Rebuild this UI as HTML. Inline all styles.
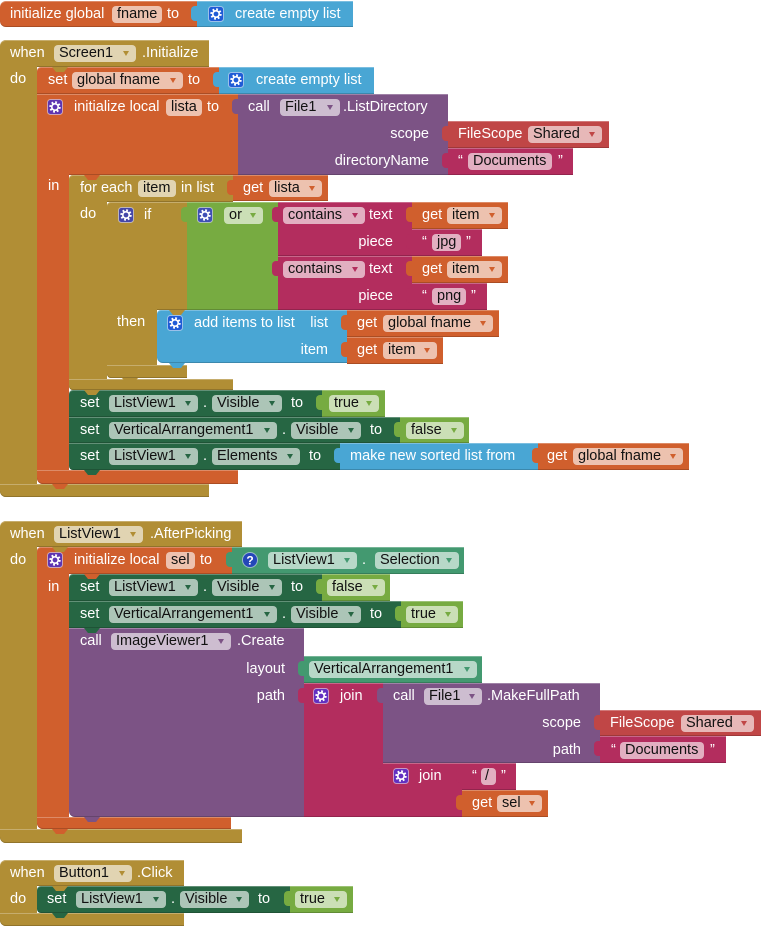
<!DOCTYPE html>
<html><head><meta charset="utf-8"><style>
html,body{margin:0;padding:0;background:#fff;width:761px;height:927px;overflow:hidden;font-family:"Liberation Sans",Arial,sans-serif}
.b{position:absolute;box-sizing:border-box;box-shadow:inset 0 1px 0 rgba(255,255,255,.28),inset 0 -1px 0 rgba(0,0,0,.18)}
.tb{position:absolute;width:7px;height:15px;border-radius:4px 0 0 4px}
.nb{position:absolute;width:16px;height:5px;clip-path:polygon(0 0,100% 0,75% 100%,25% 100%)}
.t{position:absolute;color:#fff;font-size:14.5px;line-height:18px;height:18px;white-space:nowrap}
.p{position:absolute;height:17px;border-radius:4px;background:rgba(255,255,255,.62);color:#111;font-size:14.5px;line-height:17px;padding-left:5px;box-sizing:border-box;white-space:nowrap}
.p i{position:absolute;right:7px;top:6px;width:0;height:0;border-left:3.5px solid transparent;border-right:3.5px solid transparent;border-top:5px solid #888}
.o i{border-top-color:#D05F2D}.g i{border-top-color:#B18E35}.u i{border-top-color:#7C5385}
.d i{border-top-color:#266643}.l i{border-top-color:#77AB41}.m i{border-top-color:#B32D5E}
.r i{border-top-color:#C04646}.e i{border-top-color:#439970}
.ic{position:absolute}
.OR{background:#D05F2D}.BL{background:#49A6D4}.GD{background:#B18E35}.PU{background:#7C5385}
.DG{background:#266643}.TL{background:#439970}.LG{background:#77AB41}.MG{background:#B32D5E}.RD{background:#C04646}
</style></head><body>

<!-- ===== Block 1 ===== -->
<div class="b OR" style="left:0;top:1px;width:197px;height:26px;border-radius:6px 0 0 6px"></div>
<div class="b BL" style="left:197px;top:1px;width:156px;height:26px"></div>
<div class="tb BL" style="left:191px;top:6px"></div>
<div class="t" style="left:10px;top:5px">initialize global</div>
<div class="p" style="left:112px;top:6px;width:50px">fname</div>
<div class="t" style="left:167px;top:5px">to</div>
<svg class="ic" style="left:208px;top:6px" width="16" height="16" viewBox="0 0 16 16"><rect x=".5" y=".5" width="15" height="15" rx="3" fill="#1F5BD6" stroke="#fff" stroke-opacity=".5"/><circle cx="8" cy="8" r="4.6" fill="none" stroke="#fff" stroke-width="2.2" stroke-dasharray="1.8 1.81"/><circle cx="8" cy="8" r="3.2" fill="none" stroke="#fff" stroke-width="1.6"/></svg>
<div class="t" style="left:235px;top:5px">create empty list</div>

<!-- ===== Block 2: Screen1.Initialize ===== -->
<div class="b GD" style="left:0;top:40px;width:209px;height:27px;border-radius:6px 0 0 0"></div>
<div class="b GD" style="left:0;top:40px;width:37px;height:457px;border-radius:6px 0 0 6px"></div>
<div class="b GD" style="left:0;top:484px;width:209px;height:13px;border-radius:0 0 0 6px"></div>
<div class="t" style="left:10px;top:44px">when</div>
<div class="p g" style="left:54px;top:45px;width:82px">Screen1<i></i></div>
<div class="t" style="left:142px;top:44px">.Initialize</div>
<div class="t" style="left:10px;top:70px">do</div>

<div class="b OR" style="left:37px;top:67px;width:182px;height:27px;border-radius:4px 0 0 0"></div>
<div class="nb GD" style="left:52px;top:67px"></div>
<div class="b BL" style="left:219px;top:67px;width:155px;height:27px"></div>
<div class="tb BL" style="left:213px;top:72px"></div>
<div class="t" style="left:48px;top:71px">set</div>
<div class="p o" style="left:72px;top:72px;width:111px">global fname<i></i></div>
<div class="t" style="left:188px;top:71px">to</div>
<svg class="ic" style="left:228px;top:72px" width="16" height="16" viewBox="0 0 16 16"><rect x=".5" y=".5" width="15" height="15" rx="3" fill="#1F5BD6" stroke="#fff" stroke-opacity=".5"/><circle cx="8" cy="8" r="4.6" fill="none" stroke="#fff" stroke-width="2.2" stroke-dasharray="1.8 1.81"/><circle cx="8" cy="8" r="3.2" fill="none" stroke="#fff" stroke-width="1.6"/></svg>
<div class="t" style="left:256px;top:71px">create empty list</div>

<!-- local lista -->
<div class="b OR" style="left:37px;top:94px;width:201px;height:81px"></div>
<div class="b OR" style="left:37px;top:94px;width:32px;height:390px;border-radius:0 0 0 6px"></div>
<div class="b OR" style="left:37px;top:470px;width:201px;height:14px;border-radius:0 0 0 6px"></div>
<div class="nb OR" style="left:52px;top:484px"></div>
<svg class="ic" style="left:47px;top:99px" width="16" height="16" viewBox="0 0 16 16"><rect x=".5" y=".5" width="15" height="15" rx="3" fill="#5E35B1" stroke="#fff" stroke-opacity=".5"/><circle cx="8" cy="8" r="4.6" fill="none" stroke="#fff" stroke-width="2.2" stroke-dasharray="1.8 1.81"/><circle cx="8" cy="8" r="3.2" fill="none" stroke="#fff" stroke-width="1.6"/></svg>
<div class="t" style="left:74px;top:98px">initialize local</div>
<div class="p" style="left:166px;top:99px;width:36px">lista</div>
<div class="t" style="left:207px;top:98px">to</div>

<div class="b PU" style="left:238px;top:94px;width:210px;height:81px"></div>
<div class="tb PU" style="left:232px;top:99px"></div>
<div class="t" style="left:248px;top:98px">call</div>
<div class="p u" style="left:280px;top:99px;width:60px">File1<i></i></div>
<div class="t" style="left:343px;top:98px">.ListDirectory</div>
<div class="t" style="left:0;width:429px;text-align:right;top:125px">scope</div>
<div class="b RD" style="left:448px;top:121px;width:161px;height:27px"></div>
<div class="tb RD" style="left:442px;top:126px"></div>
<div class="t" style="left:458px;top:125px">FileScope</div>
<div class="p r" style="left:528px;top:126px;width:74px">Shared<i></i></div>
<div class="t" style="left:0;width:429px;text-align:right;top:152px">directoryName</div>
<div class="b MG" style="left:448px;top:148px;width:125px;height:27px"></div>
<div class="tb MG" style="left:442px;top:153px"></div>
<div class="t" style="left:458px;top:152px">“</div>
<div class="p" style="left:468px;top:153px;width:84px">Documents</div>
<div class="t" style="left:558px;top:152px">”</div>
<div class="t" style="left:48px;top:177px">in</div>

<!-- for each -->
<div class="b GD" style="left:69px;top:175px;width:164px;height:27px;border-radius:4px 0 0 0"></div>
<div class="b GD" style="left:69px;top:175px;width:38px;height:215px;border-radius:4px 0 0 4px"></div>
<div class="b GD" style="left:69px;top:379px;width:164px;height:11px;border-radius:0 0 0 4px"></div>
<div class="nb OR" style="left:84px;top:175px"></div>
<div class="nb GD" style="left:84px;top:390px"></div>
<div class="t" style="left:80px;top:179px">for each</div>
<div class="p" style="left:138px;top:180px;width:38px">item</div>
<div class="t" style="left:181px;top:179px">in list</div>
<div class="b OR" style="left:233px;top:175px;width:95px;height:26px"></div>
<div class="tb OR" style="left:227px;top:180px"></div>
<div class="t" style="left:243px;top:179px">get</div>
<div class="p o" style="left:269px;top:180px;width:53px">lista<i></i></div>
<div class="t" style="left:80px;top:205px">do</div>

<!-- if -->
<div class="b GD" style="left:107px;top:202px;width:80px;height:108px;border-radius:4px 0 0 0"></div>
<div class="b GD" style="left:107px;top:202px;width:50px;height:176px;border-radius:4px 0 0 4px"></div>
<div class="b GD" style="left:107px;top:365px;width:80px;height:13px;border-radius:0 0 0 4px"></div>
<div class="nb GD" style="left:122px;top:378px"></div>
<svg class="ic" style="left:118px;top:207px" width="16" height="16" viewBox="0 0 16 16"><rect x=".5" y=".5" width="15" height="15" rx="3" fill="#4547A9" stroke="#fff" stroke-opacity=".5"/><circle cx="8" cy="8" r="4.6" fill="none" stroke="#fff" stroke-width="2.2" stroke-dasharray="1.8 1.81"/><circle cx="8" cy="8" r="3.2" fill="none" stroke="#fff" stroke-width="1.6"/></svg>
<div class="t" style="left:144px;top:206px">if</div>

<div class="b LG" style="left:187px;top:202px;width:91px;height:108px"></div>
<div class="tb LG" style="left:181px;top:207px"></div>
<svg class="ic" style="left:197px;top:207px" width="16" height="16" viewBox="0 0 16 16"><rect x=".5" y=".5" width="15" height="15" rx="3" fill="#3F4FB5" stroke="#fff" stroke-opacity=".5"/><circle cx="8" cy="8" r="4.6" fill="none" stroke="#fff" stroke-width="2.2" stroke-dasharray="1.8 1.81"/><circle cx="8" cy="8" r="3.2" fill="none" stroke="#fff" stroke-width="1.6"/></svg>
<div class="p l" style="left:224px;top:207px;width:39px">or<i></i></div>

<div class="b MG" style="left:278px;top:202px;width:134px;height:54px"></div>
<div class="tb MG" style="left:272px;top:207px"></div>
<div class="p m" style="left:283px;top:207px;width:82px">contains<i></i></div>
<div class="t" style="left:369px;top:206px">text</div>
<div class="b OR" style="left:412px;top:202px;width:96px;height:27px"></div>
<div class="tb OR" style="left:406px;top:207px"></div>
<div class="t" style="left:422px;top:206px">get</div>
<div class="p o" style="left:447px;top:207px;width:55px">item<i></i></div>
<div class="t" style="left:0;width:393px;text-align:right;top:233px">piece</div>
<div class="b MG" style="left:412px;top:229px;width:70px;height:27px"></div>
<div class="tb MG" style="left:406px;top:234px"></div>
<div class="t" style="left:422px;top:233px">“</div>
<div class="p" style="left:432px;top:234px;width:29px">jpg</div>
<div class="t" style="left:466px;top:233px">”</div>

<div class="b MG" style="left:278px;top:256px;width:134px;height:54px"></div>
<div class="tb MG" style="left:272px;top:261px"></div>
<div class="p m" style="left:283px;top:261px;width:82px">contains<i></i></div>
<div class="t" style="left:369px;top:260px">text</div>
<div class="b OR" style="left:412px;top:256px;width:96px;height:27px"></div>
<div class="tb OR" style="left:406px;top:261px"></div>
<div class="t" style="left:422px;top:260px">get</div>
<div class="p o" style="left:447px;top:261px;width:55px">item<i></i></div>
<div class="t" style="left:0;width:393px;text-align:right;top:287px">piece</div>
<div class="b MG" style="left:412px;top:283px;width:75px;height:27px"></div>
<div class="tb MG" style="left:406px;top:288px"></div>
<div class="t" style="left:422px;top:287px">“</div>
<div class="p" style="left:432px;top:288px;width:34px">png</div>
<div class="t" style="left:471px;top:287px">”</div>

<div class="t" style="left:117px;top:313px">then</div>
<div class="b BL" style="left:157px;top:310px;width:190px;height:53px;border-radius:4px 0 0 6px"></div>
<div class="nb GD" style="left:169px;top:310px"></div>
<div class="nb BL" style="left:169px;top:363px"></div>
<svg class="ic" style="left:167px;top:315px" width="16" height="16" viewBox="0 0 16 16"><rect x=".5" y=".5" width="15" height="15" rx="3" fill="#1F5BD6" stroke="#fff" stroke-opacity=".5"/><circle cx="8" cy="8" r="4.6" fill="none" stroke="#fff" stroke-width="2.2" stroke-dasharray="1.8 1.81"/><circle cx="8" cy="8" r="3.2" fill="none" stroke="#fff" stroke-width="1.6"/></svg>
<div class="t" style="left:194px;top:314px">add items to list</div>
<div class="t" style="left:0;width:328px;text-align:right;top:314px">list</div>
<div class="t" style="left:0;width:328px;text-align:right;top:341px">item</div>
<div class="b OR" style="left:347px;top:310px;width:152px;height:27px"></div>
<div class="tb OR" style="left:341px;top:315px"></div>
<div class="t" style="left:357px;top:314px">get</div>
<div class="p o" style="left:383px;top:315px;width:110px">global fname<i></i></div>
<div class="b OR" style="left:347px;top:337px;width:96px;height:27px"></div>
<div class="tb OR" style="left:341px;top:342px"></div>
<div class="t" style="left:357px;top:341px">get</div>
<div class="p o" style="left:383px;top:342px;width:54px">item<i></i></div>

<!-- setters -->
<div class="b DG" style="left:69px;top:390px;width:253px;height:27px;border-radius:4px 0 0 0"></div>
<div class="nb GD" style="left:84px;top:390px"></div>
<div class="t" style="left:80px;top:394px">set</div>
<div class="p d" style="left:109px;top:395px;width:89px">ListView1<i></i></div>
<div class="t" style="left:203px;top:394px">.</div>
<div class="p d" style="left:212px;top:395px;width:70px">Visible<i></i></div>
<div class="t" style="left:291px;top:394px">to</div>
<div class="b LG" style="left:322px;top:390px;width:63px;height:27px"></div>
<div class="tb LG" style="left:316px;top:395px"></div>
<div class="p l" style="left:329px;top:395px;width:50px">true<i></i></div>

<div class="b DG" style="left:69px;top:417px;width:331px;height:26px"></div>
<div class="t" style="left:80px;top:421px">set</div>
<div class="p d" style="left:109px;top:422px;width:168px">VerticalArrangement1<i></i></div>
<div class="t" style="left:282px;top:421px">.</div>
<div class="p d" style="left:291px;top:422px;width:70px">Visible<i></i></div>
<div class="t" style="left:370px;top:421px">to</div>
<div class="b LG" style="left:400px;top:417px;width:69px;height:26px"></div>
<div class="tb LG" style="left:394px;top:422px"></div>
<div class="p l" style="left:406px;top:422px;width:58px">false<i></i></div>

<div class="b DG" style="left:69px;top:443px;width:271px;height:27px;border-radius:0 0 0 4px"></div>
<div class="nb DG" style="left:84px;top:470px"></div>
<div class="t" style="left:80px;top:447px">set</div>
<div class="p d" style="left:109px;top:448px;width:89px">ListView1<i></i></div>
<div class="t" style="left:203px;top:447px">.</div>
<div class="p d" style="left:212px;top:448px;width:88px">Elements<i></i></div>
<div class="t" style="left:309px;top:447px">to</div>
<div class="b BL" style="left:340px;top:443px;width:198px;height:27px"></div>
<div class="tb BL" style="left:334px;top:448px"></div>
<div class="t" style="left:350px;top:447px">make new sorted list from</div>
<div class="b OR" style="left:538px;top:443px;width:151px;height:27px"></div>
<div class="tb OR" style="left:532px;top:448px"></div>
<div class="t" style="left:547px;top:447px">get</div>
<div class="p o" style="left:573px;top:448px;width:110px">global fname<i></i></div>

<!-- ===== Block 3: AfterPicking ===== -->
<div class="b GD" style="left:0;top:521px;width:242px;height:26px;border-radius:6px 0 0 0"></div>
<div class="b GD" style="left:0;top:521px;width:37px;height:322px;border-radius:6px 0 0 6px"></div>
<div class="b GD" style="left:0;top:829px;width:242px;height:14px;border-radius:0 0 0 6px"></div>
<div class="t" style="left:10px;top:525px">when</div>
<div class="p g" style="left:54px;top:526px;width:89px">ListView1<i></i></div>
<div class="t" style="left:150px;top:525px">.AfterPicking</div>
<div class="t" style="left:10px;top:551px">do</div>

<div class="b OR" style="left:37px;top:547px;width:195px;height:27px;border-radius:4px 0 0 0"></div>
<div class="b OR" style="left:37px;top:547px;width:32px;height:282px;border-radius:4px 0 0 6px"></div>
<div class="b OR" style="left:37px;top:817px;width:194px;height:12px;border-radius:0 0 0 6px"></div>
<div class="nb GD" style="left:52px;top:547px"></div>
<div class="nb OR" style="left:52px;top:829px"></div>
<svg class="ic" style="left:47px;top:552px" width="16" height="16" viewBox="0 0 16 16"><rect x=".5" y=".5" width="15" height="15" rx="3" fill="#5E35B1" stroke="#fff" stroke-opacity=".5"/><circle cx="8" cy="8" r="4.6" fill="none" stroke="#fff" stroke-width="2.2" stroke-dasharray="1.8 1.81"/><circle cx="8" cy="8" r="3.2" fill="none" stroke="#fff" stroke-width="1.6"/></svg>
<div class="t" style="left:74px;top:551px">initialize local</div>
<div class="p" style="left:166px;top:552px;width:29px">sel</div>
<div class="t" style="left:200px;top:551px">to</div>
<div class="b TL" style="left:232px;top:547px;width:232px;height:27px"></div>
<div class="tb TL" style="left:226px;top:552px"></div>
<svg class="ic" style="left:242px;top:552px" width="16" height="16" viewBox="0 0 16 16"><circle cx="8" cy="8" r="7.5" fill="#2447B8" stroke="#fff" stroke-opacity=".5"/><text x="8" y="12.3" text-anchor="middle" font-family="Liberation Sans,sans-serif" font-weight="bold" font-size="12" fill="#fff">?</text></svg>
<div class="p e" style="left:268px;top:552px;width:89px">ListView1<i></i></div>
<div class="t" style="left:362px;top:551px">.</div>
<div class="p e" style="left:375px;top:552px;width:84px">Selection<i></i></div>
<div class="t" style="left:48px;top:578px">in</div>

<div class="b DG" style="left:69px;top:574px;width:253px;height:27px;border-radius:4px 0 0 0"></div>
<div class="nb OR" style="left:84px;top:574px"></div>
<div class="t" style="left:80px;top:578px">set</div>
<div class="p d" style="left:109px;top:579px;width:89px">ListView1<i></i></div>
<div class="t" style="left:203px;top:578px">.</div>
<div class="p d" style="left:212px;top:579px;width:70px">Visible<i></i></div>
<div class="t" style="left:291px;top:578px">to</div>
<div class="b LG" style="left:322px;top:574px;width:68px;height:27px"></div>
<div class="tb LG" style="left:316px;top:579px"></div>
<div class="p l" style="left:327px;top:579px;width:58px">false<i></i></div>

<div class="b DG" style="left:69px;top:601px;width:332px;height:27px"></div>
<div class="t" style="left:80px;top:605px">set</div>
<div class="p d" style="left:109px;top:606px;width:168px">VerticalArrangement1<i></i></div>
<div class="t" style="left:282px;top:605px">.</div>
<div class="p d" style="left:291px;top:606px;width:70px">Visible<i></i></div>
<div class="t" style="left:370px;top:605px">to</div>
<div class="b LG" style="left:401px;top:601px;width:62px;height:27px"></div>
<div class="tb LG" style="left:395px;top:606px"></div>
<div class="p l" style="left:406px;top:606px;width:52px">true<i></i></div>

<div class="b PU" style="left:69px;top:628px;width:235px;height:189px;border-radius:0 0 0 6px"></div>
<div class="nb DG" style="left:84px;top:628px"></div>
<div class="nb PU" style="left:84px;top:817px"></div>
<div class="t" style="left:80px;top:632px">call</div>
<div class="p u" style="left:111px;top:633px;width:120px">ImageViewer1<i></i></div>
<div class="t" style="left:237px;top:632px">.Create</div>
<div class="t" style="left:0;width:285px;text-align:right;top:660px">layout</div>
<div class="b TL" style="left:304px;top:656px;width:178px;height:27px"></div>
<div class="tb TL" style="left:298px;top:661px"></div>
<div class="p e" style="left:309px;top:661px;width:168px">VerticalArrangement1<i></i></div>
<div class="t" style="left:0;width:285px;text-align:right;top:687px">path</div>

<div class="b MG" style="left:304px;top:683px;width:79px;height:134px"></div>
<div class="tb MG" style="left:298px;top:688px"></div>
<svg class="ic" style="left:313px;top:688px" width="16" height="16" viewBox="0 0 16 16"><rect x=".5" y=".5" width="15" height="15" rx="3" fill="#6230C0" stroke="#fff" stroke-opacity=".5"/><circle cx="8" cy="8" r="4.6" fill="none" stroke="#fff" stroke-width="2.2" stroke-dasharray="1.8 1.81"/><circle cx="8" cy="8" r="3.2" fill="none" stroke="#fff" stroke-width="1.6"/></svg>
<div class="t" style="left:340px;top:687px">join</div>

<div class="b PU" style="left:383px;top:683px;width:217px;height:80px"></div>
<div class="tb PU" style="left:377px;top:688px"></div>
<div class="t" style="left:393px;top:687px">call</div>
<div class="p u" style="left:424px;top:688px;width:58px">File1<i></i></div>
<div class="t" style="left:487px;top:687px">.MakeFullPath</div>
<div class="t" style="left:0;width:581px;text-align:right;top:714px">scope</div>
<div class="b RD" style="left:600px;top:710px;width:161px;height:26px"></div>
<div class="tb RD" style="left:594px;top:715px"></div>
<div class="t" style="left:610px;top:714px">FileScope</div>
<div class="p r" style="left:681px;top:715px;width:73px">Shared<i></i></div>
<div class="t" style="left:0;width:581px;text-align:right;top:741px">path</div>
<div class="b MG" style="left:600px;top:736px;width:126px;height:27px"></div>
<div class="tb MG" style="left:594px;top:741px"></div>
<div class="t" style="left:611px;top:741px">“</div>
<div class="p" style="left:620px;top:742px;width:84px">Documents</div>
<div class="t" style="left:710px;top:741px">”</div>

<div class="b MG" style="left:383px;top:763px;width:79px;height:54px"></div>
<div class="tb MG" style="left:377px;top:768px"></div>
<svg class="ic" style="left:393px;top:768px" width="16" height="16" viewBox="0 0 16 16"><rect x=".5" y=".5" width="15" height="15" rx="3" fill="#6230C0" stroke="#fff" stroke-opacity=".5"/><circle cx="8" cy="8" r="4.6" fill="none" stroke="#fff" stroke-width="2.2" stroke-dasharray="1.8 1.81"/><circle cx="8" cy="8" r="3.2" fill="none" stroke="#fff" stroke-width="1.6"/></svg>
<div class="t" style="left:419px;top:767px">join</div>
<div class="b MG" style="left:462px;top:763px;width:54px;height:27px"></div>
<div class="tb MG" style="left:456px;top:768px"></div>
<div class="t" style="left:472px;top:767px">“</div>
<div class="p" style="left:481px;top:768px;width:15px;padding-left:4px">/</div>
<div class="t" style="left:501px;top:767px">”</div>
<div class="b OR" style="left:462px;top:790px;width:86px;height:27px"></div>
<div class="tb OR" style="left:456px;top:795px"></div>
<div class="t" style="left:472px;top:794px">get</div>
<div class="p o" style="left:497px;top:795px;width:45px">sel<i></i></div>

<!-- ===== Block 4: Button1.Click ===== -->
<div class="b GD" style="left:0;top:860px;width:184px;height:26px;border-radius:6px 0 0 0"></div>
<div class="b GD" style="left:0;top:860px;width:37px;height:66px;border-radius:6px 0 0 6px"></div>
<div class="b GD" style="left:0;top:913px;width:184px;height:13px;border-radius:0 0 0 6px"></div>
<div class="t" style="left:10px;top:864px">when</div>
<div class="p g" style="left:54px;top:865px;width:78px">Button1<i></i></div>
<div class="t" style="left:137px;top:864px">.Click</div>
<div class="t" style="left:10px;top:890px">do</div>
<div class="b DG" style="left:37px;top:886px;width:253px;height:27px;border-radius:4px 0 0 4px"></div>
<div class="nb GD" style="left:52px;top:886px"></div>
<div class="nb DG" style="left:52px;top:913px"></div>
<div class="t" style="left:47px;top:890px">set</div>
<div class="p d" style="left:76px;top:891px;width:90px">ListView1<i></i></div>
<div class="t" style="left:171px;top:890px">.</div>
<div class="p d" style="left:180px;top:891px;width:69px">Visible<i></i></div>
<div class="t" style="left:258px;top:890px">to</div>
<div class="b LG" style="left:290px;top:886px;width:63px;height:27px"></div>
<div class="tb LG" style="left:284px;top:891px"></div>
<div class="p l" style="left:295px;top:891px;width:52px">true<i></i></div>

</body></html>
